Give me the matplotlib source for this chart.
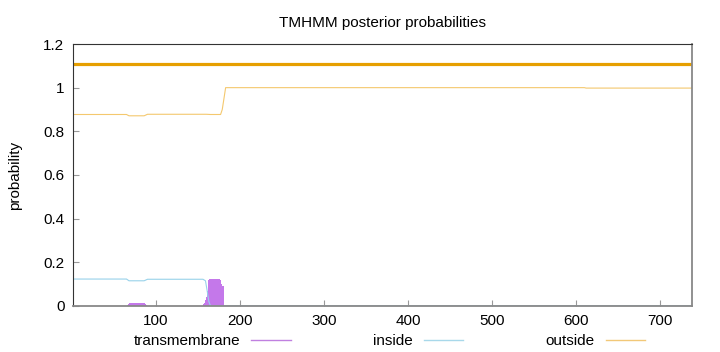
import matplotlib
matplotlib.use("Agg")
import matplotlib.pyplot as plt
from matplotlib.lines import Line2D

plt.rcParams['font.family'] = ['Liberation Sans', 'DejaVu Sans']

# sequence length and predicted topology (whole chain outside)
seq_len = 738
topology_y = 1.11

# posterior for "outside": breakpoints (residue, probability)
out_x = [1, 65, 68, 86, 90, 160, 165, 177, 179, 181, 183, 610, 612, 738]
out_y = [0.877, 0.877, 0.871, 0.871, 0.878, 0.878, 0.877, 0.877, 0.9, 0.95, 1.0, 1.0, 0.998, 0.998]

# posterior for "inside"
in_x = [1, 65, 68, 86, 90, 156, 159, 161, 163, 165, 738]
in_y = [0.123, 0.123, 0.115, 0.115, 0.122, 0.122, 0.115, 0.07, 0.02, 0.0, 0.0]

# posterior for "transmembrane" per residue (only nonzero stretches)
tm_res = list(range(66, 90)) + list(range(157, 182))
tm_val = [0.004, 0.008, 0.012, 0.015, 0.015, 0.015, 0.015, 0.015, 0.015, 0.015,
          0.015, 0.015, 0.015, 0.015, 0.015, 0.015, 0.015, 0.015, 0.015, 0.015,
          0.014, 0.012, 0.008, 0.003,
          0.008, 0.015, 0.025, 0.04, 0.07, 0.1, 0.118, 0.123, 0.123, 0.123,
          0.123, 0.123, 0.123, 0.123, 0.123, 0.123, 0.123, 0.123, 0.123, 0.123,
          0.12, 0.1, 0.09, 0.09, 0.0]

fig = plt.figure(figsize=(7.2, 3.52), dpi=100)
ax = fig.add_axes([0.101, 0.131, 0.86, 0.744])

ax.plot([1, seq_len], [topology_y, topology_y], color='#e69f00', lw=2.3, solid_capstyle='butt')
ax.bar(tm_res, tm_val, width=1.0, color='#c478ea', edgecolor='none',
       label='transmembrane')
ax.plot(in_x, in_y, color='#98d2ea', lw=0.8, label='inside')
ax.plot(out_x, out_y, color='#f4c86e', lw=0.8, label='outside')

ax.set_xlim(1, seq_len)
ax.set_ylim(0, 1.2)
ax.set_yticks([0, 0.2, 0.4, 0.6, 0.8, 1.0, 1.2])
ax.set_yticklabels(['0', '0.2', '0.4', '0.6', '0.8', '1', '1.2'])
ax.set_xticks([100, 200, 300, 400, 500, 600, 700])
ax.tick_params(direction='in', length=4, color='#999999', labelsize=11, pad=6,
               top=False, right=False)
for s in ['left', 'top']:
    ax.spines[s].set_color('#333333')
for s in ['right', 'bottom']:
    ax.spines[s].set_color('#888888')
    ax.spines[s].set_linewidth(1.3)

ax.set_title('TMHMM posterior probabilities', fontsize=11, pad=12)
ax.set_ylabel('probability', fontsize=11, labelpad=15)

handles = [Line2D([], [], color='#c080e0', lw=1),
           Line2D([], [], color='#a8d8ea', lw=1),
           Line2D([], [], color='#f2c878', lw=1)]
fig.legend(handles, ['transmembrane', 'inside', 'outside'], loc='center',
           bbox_to_anchor=(0.541, 0.03), ncol=3, frameon=False, fontsize=11,
           markerfirst=False, handlelength=2.6, handletextpad=0.7,
           columnspacing=5.4, borderpad=0)

fig.savefig('out.png', dpi=100)
